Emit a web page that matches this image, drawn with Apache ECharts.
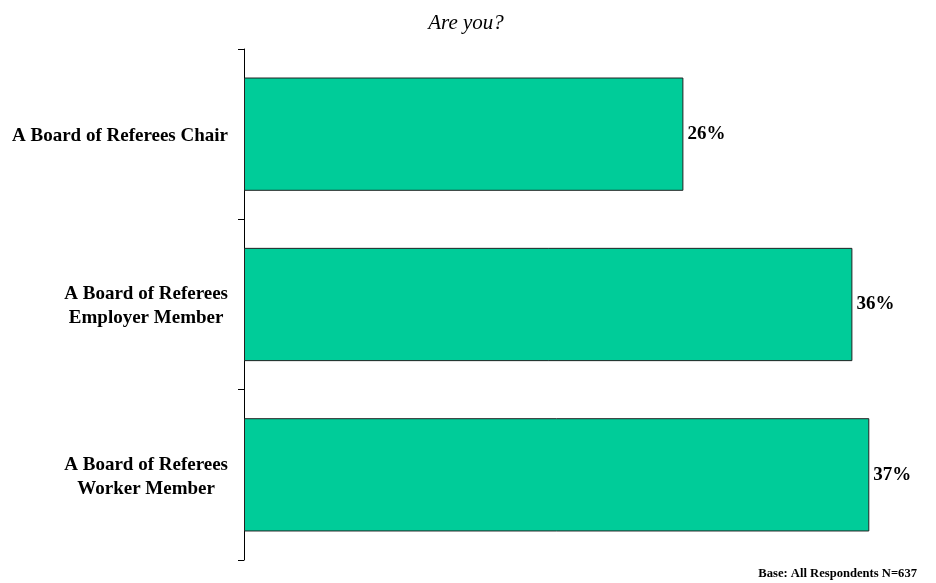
<!DOCTYPE html>
<html>
<head>
<meta charset="utf-8">
<script src="https://cdn.jsdelivr.net/npm/echarts@6/dist/echarts.min.js"></script>
<style>
html,body{margin:0;padding:0;background:#fff;}
#chart{width:936px;height:583px;}
</style>
</head>
<body>
<div id="chart"></div>
<script>
// categories top to bottom
var categories = ['A Board of Referees Chair', 'A Board of Referees\nEmployer Member', 'A Board of Referees\nWorker Member'];
var values = [26, 36, 37];

var myChart = echarts.init(document.getElementById('chart'));
var option = {
    backgroundColor: '#fff',
    animation: false,
    title: [
        {
            text: 'Are you?',
            left: 461,
            textAlign: 'center',
            top: 8,
            textStyle: {fontFamily: 'Liberation Serif', fontStyle: 'italic', fontWeight: 'normal', fontSize: 21, color: '#000'}
        },
        {
            text: 'Base: All Respondents N=637',
            right: 14,
            top: 562,
            textStyle: {fontFamily: 'Liberation Serif', fontWeight: 'bold', fontSize: 12.6, color: '#000'}
        }
    ],
    grid: {left: 244, right: 16, top: 49, bottom: 23, containLabel: false},
    xAxis: {
        type: 'value',
        min: 0,
        max: 40,
        show: false
    },
    yAxis: {
        type: 'category',
        data: categories,
        inverse: true,
        axisLine: {lineStyle: {color: '#000', width: 1}},
        axisTick: {show: true, length: 6, lineStyle: {color: '#000'}},
        axisLabel: {
            margin: 16,
            align: 'right',
            padding: [4, 0, 0, 0],
            formatter: function (v) {
                return v.split('\n').map(function (s) { return '{c|' + s + '}'; }).join('\n');
            },
            rich: {
                c: {align: 'center', fontFamily: 'Liberation Serif', fontWeight: 'bold', fontSize: 19, lineHeight: 24, color: '#000'}
            }
        }
    },
    series: [{
        type: 'bar',
        data: values,
        barCategoryGap: '33.5%',
        itemStyle: {color: '#00CC99', borderColor: '#222', borderWidth: 1},
        label: {
            show: true,
            position: 'right',
            distance: 4,
            padding: [4, 0, 0, 0],
            formatter: '{c}%',
            fontFamily: 'Liberation Serif',
            fontWeight: 'bold',
            fontSize: 19,
            color: '#000'
        }
    }]
};
myChart.setOption(option);
</script>
</body>
</html>
